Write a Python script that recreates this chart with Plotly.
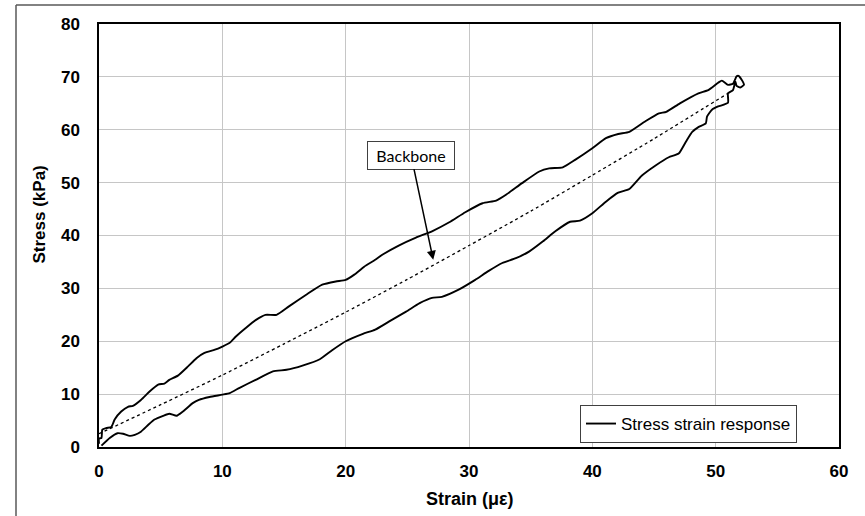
import plotly.graph_objects as go

# Hysteresis loop: loading branch (upper) then unloading branch (lower)
strain = [0.0, 0.0, 0.2, 0.27, 0.6, 1.0, 1.27, 1.8, 2.35, 2.75, 3.4, 4.1, 4.8, 5.3, 5.7, 6.4,
          7.2, 7.9, 8.55, 9.4, 10.0, 10.6, 11.1, 11.9, 12.7, 13.5, 14.4, 15.4, 16.8, 18.1,
          19.2, 20.0, 20.7, 21.5, 22.4, 23.0, 24.3, 25.7, 27.0, 28.4, 29.7, 31.1, 32.2, 33.0,
          34.3, 35.7, 36.5, 37.6, 38.6, 40.0, 41.1, 42.1, 43.0, 44.3, 45.4, 46.0, 47.1, 48.6,
          49.4, 50.2, 50.5, 51.0, 51.4, 51.7, 51.85, 52.2, 52.3, 52.0, 51.7, 51.6,
          51.4, 51.0, 51.0, 50.2, 49.7, 49.3, 49.2, 48.6, 48.1, 47.6, 47.0, 46.2, 45.1, 44.0,
          43.0, 42.1, 41.1, 40.0, 39.0, 38.2, 37.0, 36.0, 34.9, 33.8, 32.7, 31.6, 30.5, 29.2,
          27.8, 27.0, 26.0, 24.9, 23.5, 22.4, 21.4, 20.0, 18.9, 17.9, 16.5, 15.2, 14.1, 12.7,
          11.4, 10.6, 10.0, 8.96, 8.1, 7.6, 6.8, 6.3, 5.7, 5.2, 4.5, 4.0, 3.4, 2.9, 2.5, 1.95,
          1.5, 0.87, 0.2]
stress = [0.6, 1.6, 1.7, 3.3, 3.6, 3.8, 5.2, 6.7, 7.6, 7.8, 8.9, 10.5, 11.8, 12.0, 12.7, 13.5,
          15.2, 16.8, 17.8, 18.4, 19.0, 19.7, 20.9, 22.5, 24.0, 25.0, 25.0, 26.6, 28.8, 30.7,
          31.3, 31.6, 32.6, 34.1, 35.4, 36.4, 38.1, 39.6, 40.8, 42.5, 44.4, 46.1, 46.6, 47.7,
          49.9, 52.1, 52.7, 52.9, 54.3, 56.5, 58.4, 59.2, 59.6, 61.6, 63.1, 63.4, 65.0, 66.9,
          67.5, 68.9, 69.3, 68.5, 68.7, 70.1, 70.2, 69.1, 68.5, 68.0, 68.3, 69.1,
          67.5, 66.9, 65.1, 64.4, 63.8, 62.5, 61.2, 60.5, 59.6, 57.8, 55.5, 54.8, 53.2, 51.3,
          48.8, 48.1, 46.4, 44.2, 42.8, 42.6, 40.8, 38.9, 37.0, 35.7, 34.8, 33.3, 31.6, 29.8,
          28.4, 28.2, 27.2, 25.6, 23.7, 22.2, 21.4, 20.0, 18.3, 16.6, 15.4, 14.6, 14.3, 12.7,
          11.2, 10.2, 9.9, 9.45, 8.9, 8.3, 6.7, 5.9, 6.3, 5.9, 5.2, 4.2, 2.9, 2.3, 2.1, 2.5,
          2.6, 1.7, 0.25]

# Backbone (dotted trend curve) read at several strains
backbone_strain = [0, 5, 10, 15, 20, 25, 30, 35, 40, 45, 51]
backbone_stress = [2.5, 8.0, 13.6, 19.5, 25.5, 31.7, 38.1, 44.6, 51.4, 58.3, 66.9]

x_ticks = [0, 10, 20, 30, 40, 50, 60]
y_ticks = [0, 10, 20, 30, 40, 50, 60, 70, 80]

FONT = "Liberation Sans, Arial, sans-serif"

fig = go.Figure()
fig.add_trace(go.Scatter(
    x=backbone_strain, y=backbone_stress, mode="lines",
    line=dict(color="black", width=1.3, dash="dot", shape="spline", smoothing=0.6),
    showlegend=False, hoverinfo="skip"))
fig.add_trace(go.Scatter(
    x=strain, y=stress, mode="lines", name="Stress strain response",
    line=dict(color="black", width=1.9, shape="spline", smoothing=0.5)))

axis_common = dict(
    showgrid=True, gridcolor="#c6c6c6", gridwidth=1,
    showline=True, linecolor="black", linewidth=1.5, mirror=True,
    zeroline=False, ticks="",
    tickfont=dict(family=FONT, size=17, color="black", weight="bold"),
)

fig.update_xaxes(range=[0, 60], tickvals=x_ticks, ticktext=[str(v) for v in x_ticks],
                 ticklabelstandoff=8, **axis_common)
fig.update_yaxes(range=[0, 80], tickvals=y_ticks, ticktext=[str(v) for v in y_ticks],
                 ticklabelstandoff=14, **axis_common)

L, R, T, B = 99, 26, 24, 69
PW, PH = 865 - L - R, 516 - T - B

def px_x(p):
    return (p - L) / PW

def px_y(p):
    return (516 - B - p) / PH

fig.update_layout(
    width=865, height=516,
    margin=dict(l=L, r=R, t=T, b=B, pad=0),
    paper_bgcolor="white", plot_bgcolor="white",
    font=dict(family=FONT, color="black"),
    legend=dict(
        x=px_x(580), y=px_y(405), xanchor="left", yanchor="top",
        bgcolor="white", bordercolor="#404040", borderwidth=1,
        font=dict(family=FONT, size=17, color="black"),
        tracegroupgap=0, itemwidth=30,
    ),
    showlegend=True,
)

# Axis titles as annotations placed like the reference
fig.add_annotation(text="<b>Strain (με)</b>", xref="paper", yref="paper",
                   x=px_x(470), y=px_y(499), xanchor="center", yanchor="middle",
                   showarrow=False, font=dict(family=FONT, size=18, color="black"))
fig.add_annotation(text="<b>Stress (kPa)</b>", xref="paper", yref="paper",
                   x=px_x(38.5), y=px_y(215), xanchor="center", yanchor="middle",
                   showarrow=False, textangle=-90,
                   font=dict(family=FONT, size=17, color="black"))

# Backbone callout with arrow
fig.add_annotation(text="Backbone", x=27.1, y=35.4, xref="x", yref="y",
                   ax=25.3, ay=55.2, axref="x", ayref="y",
                   showarrow=True, arrowhead=2, arrowsize=1.2, arrowwidth=1.5, arrowcolor="black",
                   font=dict(family="Lato, Carlito, sans-serif", size=16, color="black"),
                   bgcolor="white", bordercolor="#404040", borderwidth=1,
                   width=82, height=23, borderpad=2)

# Outer chart-area border (left and top edges visible)
fig.add_shape(type="line", xref="paper", yref="paper",
              x0=px_x(16), x1=px_x(16), y0=px_y(5), y1=px_y(516),
              line=dict(color="#595959", width=1.5))
fig.add_shape(type="line", xref="paper", yref="paper",
              x0=px_x(16), x1=px_x(865), y0=px_y(5), y1=px_y(5),
              line=dict(color="#595959", width=1.5))

fig.write_html("out.html")
